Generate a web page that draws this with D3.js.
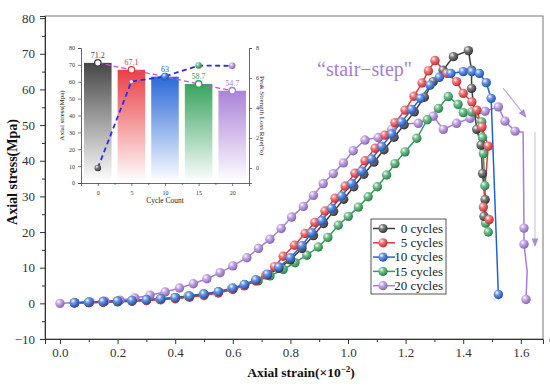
<!DOCTYPE html>
<html><head><meta charset="utf-8">
<script src="https://cdn.jsdelivr.net/npm/d3@7"></script>
<style>
body{margin:0;background:#fff}
svg{display:block}
text{font-family:"Liberation Serif","Times New Roman",serif}
</style>
</head><body>
<svg id="c" width="550" height="386"></svg>
<script>
// ---------- DATA ----------
const seriesNames  = ["0 cycles","5 cycles","10 cycles","15 cycles","20 cycles"];
const seriesColors = ["#3d3d3d","#e8363a","#1f62d6","#2f9e57","#a77cd8"];

const cycles0 = [[0.05,0.2],[0.10,0.3],[0.15,0.5],[0.20,0.6],[0.25,0.8],[0.30,1.0],[0.35,1.3],[0.40,1.6],[0.45,2.0],[0.50,2.5],[0.55,3.2],[0.60,4.1],[0.64,5.1],[0.68,6.4],[0.72,8.0],[0.76,9.8],[0.80,12.2],[0.84,15.4],[0.88,19.0],[0.915,22.4],[0.95,25.8],[0.985,29.2],[1.02,32.7],[1.055,36.2],[1.09,39.6],[1.125,43.1],[1.16,46.6],[1.195,50.1],[1.23,53.7],[1.265,57.8],[1.296,62.2],[1.33,65.4],[1.366,69.2],[1.418,70.9],[1.429,65.4],[1.429,60.3],[1.447,48.8],[1.462,44.4],[1.467,36.4],[1.476,29.1],[1.472,24.4]];
const cycles5 = [[0.05,0.1],[0.10,0.2],[0.15,0.3],[0.20,0.5],[0.25,0.6],[0.30,0.8],[0.35,1.0],[0.40,1.3],[0.45,1.7],[0.50,2.2],[0.55,2.9],[0.60,3.9],[0.64,4.9],[0.68,6.3],[0.715,8.0],[0.745,10.3],[0.775,13.2],[0.814,16.3],[0.851,19.6],[0.885,22.7],[0.92,25.9],[0.955,29.5],[0.99,32.9],[1.024,36.5],[1.059,40.0],[1.094,43.5],[1.128,47.2],[1.163,50.7],[1.198,54.2],[1.229,58.1],[1.257,61.8],[1.279,65.2],[1.302,68.1],[1.343,64.5],[1.377,62.2],[1.40,58.9],[1.43,56.5],[1.447,54.2],[1.465,49.5],[1.487,44.1],[1.47,27.0],[1.49,23.5]];
const cycles10 = [[0.05,0.2],[0.10,0.35],[0.15,0.5],[0.20,0.65],[0.25,0.8],[0.30,1.0],[0.35,1.3],[0.40,1.6],[0.45,2.0],[0.50,2.6],[0.55,3.3],[0.60,4.3],[0.64,5.3],[0.68,6.6],[0.72,8.2],[0.76,10.2],[0.80,12.8],[0.84,16.2],[0.874,19.8],[0.909,23.2],[0.943,26.7],[0.978,30.1],[1.013,33.6],[1.048,37.1],[1.082,40.5],[1.117,44.0],[1.152,47.5],[1.186,50.9],[1.221,54.4],[1.252,57.5],[1.285,61.2],[1.317,63.4],[1.357,64.5],[1.40,65.0],[1.43,65.0],[1.456,64.5],[1.48,61.9],[1.497,57.5],[1.522,2.5]];
const cycles15 = [[0.05,0.1],[0.10,0.2],[0.15,0.3],[0.20,0.4],[0.25,0.6],[0.30,0.8],[0.347,1.1],[0.40,1.6],[0.445,2.1],[0.498,2.7],[0.55,3.2],[0.596,4.2],[0.642,5.2],[0.688,6.3],[0.729,7.7],[0.775,9.5],[0.816,11.4],[0.857,13.5],[0.897,15.8],[0.93,18.5],[0.966,21.9],[1.001,24.4],[1.036,27.0],[1.07,29.9],[1.102,32.7],[1.134,36.0],[1.163,39.2],[1.198,42.5],[1.239,46.3],[1.275,51.5],[1.314,54.7],[1.348,58.0],[1.382,55.8],[1.40,53.5],[1.43,53.7],[1.464,50.9],[1.467,46.5],[1.47,42.0],[1.475,33.0],[1.478,22.5],[1.487,20.0]];
const cycles20 = [[0,0],[0.052,0.2],[0.104,0.4],[0.156,0.6],[0.208,0.9],[0.26,1.5],[0.3125,2.3],[0.365,3.2],[0.415,4.3],[0.463,5.5],[0.51,6.9],[0.556,8.6],[0.60,10.5],[0.649,12.8],[0.689,15.4],[0.729,18.0],[0.768,21.0],[0.804,24.2],[0.845,27.2],[0.88,30.3],[0.914,33.6],[0.949,36.4],[0.984,39.4],[1.018,42.8],[1.059,45.8],[1.105,46.5],[1.152,48.8],[1.192,50.3],[1.244,50.5],[1.296,52.5],[1.331,48.8],[1.377,50.5],[1.424,51.9],[1.476,53.9],[1.522,55.1],[1.545,51.1],[1.58,48.3],[1.608,48.0],[1.611,21.1],[1.611,16.6],[1.622,9.0],[1.618,1.1]];
const allSeries = [cycles0,cycles5,cycles10,cycles15,cycles20];
const lineOnlyIdx = [[],[],[],[],[37,40]];

const xTicks = [0,0.2,0.4,0.6,0.8,1.0,1.2,1.4,1.6];
const yTicks = [-10,0,10,20,30,40,50,60,70,80];

// inset
const cycleCounts = [0,5,10,15,20];
const peakStress  = [71.2,67.1,63,58.7,54.7];
const peakLabels  = ["71.2","67.1","63","58.7","54.7"];
const lossRate    = [0,5.76,6.11,6.83,6.81];
const insetLeftTicks  = [0,10,20,30,40,50,60,70,80];
const insetRightTicks = [0,2,4,6,8];

// ---------- DRAW ----------
const svg = d3.select("#c");
const defs = svg.append("defs");

seriesColors.forEach((c,i)=>{
  const g = defs.append("radialGradient").attr("id","sph"+i)
    .attr("cx","35%").attr("cy","32%").attr("r","70%");
  g.append("stop").attr("offset","0%").attr("stop-color","#ffffff");
  g.append("stop").attr("offset","35%").attr("stop-color",d3.interpolateRgb(c,"#fff")(0.35));
  g.append("stop").attr("offset","100%").attr("stop-color",d3.color(c).darker(0.6));
  const lg = defs.append("linearGradient").attr("id","bar"+i)
    .attr("x1",0).attr("y1",0).attr("x2",0).attr("y2",1);
  lg.append("stop").attr("offset","0%").attr("stop-color",c).attr("stop-opacity",0.95);
  lg.append("stop").attr("offset","100%").attr("stop-color",c).attr("stop-opacity",0.0);
});
const am = defs.append("marker").attr("id","arr").attr("viewBox","0 0 10 10")
  .attr("refX",9).attr("refY",5).attr("markerWidth",7).attr("markerHeight",7).attr("orient","auto-start-reverse");
am.append("path").attr("d","M0,1 L10,5 L0,9 z").attr("fill","#a98ad8");

const L=45, R=543, T=16, B=339;
const x = d3.scaleLinear().domain([-0.052,1.677]).range([L,R]);
const y = d3.scaleLinear().domain([-10,80.6]).range([B,T]);

// frame
svg.append("rect").attr("x",L).attr("y",T).attr("width",R-L).attr("height",B-T)
  .attr("fill","none").attr("stroke","#777").attr("stroke-width",1);

// x axis
svg.append("g").attr("transform",`translate(0,${B})`)
  .call(d3.axisBottom(x).tickValues(xTicks).tickFormat(d3.format(".1f")).tickSize(5).tickPadding(4));
svg.append("g").attr("transform",`translate(0,${B})`)
  .call(d3.axisBottom(x).tickValues(xTicks.map(v=>v+0.1)).tickFormat("").tickSize(3))
  .select(".domain").remove();
// y axis
svg.append("g").attr("transform",`translate(${L},0)`)
  .call(d3.axisLeft(y).tickValues(yTicks).tickSize(5).tickPadding(5));
svg.append("g").attr("transform",`translate(${L},0)`)
  .call(d3.axisLeft(y).tickValues(yTicks.slice(0,-1).map(v=>v+5)).tickFormat("").tickSize(3))
  .select(".domain").remove();
svg.selectAll(".tick text").attr("font-family","Liberation Serif, serif").attr("font-size",13).attr("fill","#333");
svg.selectAll(".tick line").attr("stroke","#333");
svg.selectAll(".domain").attr("stroke","#333");

// axis titles
svg.append("text").attr("transform","translate(17,172) rotate(-90)").attr("text-anchor","middle")
  .attr("font-weight","bold").attr("font-size",14).attr("fill","#111").text("Axial stress(Mpa)");
const xt = svg.append("text").attr("x",301).attr("y",377).attr("text-anchor","middle")
  .attr("font-weight","bold").attr("font-size",13.5).attr("fill","#111");
xt.append("tspan").text("Axial strain(×10");
xt.append("tspan").attr("dy",-5).attr("font-size",9).text("−2");
xt.append("tspan").attr("dy",5).text(")");

// curves
const line = d3.line().x(d=>x(d[0])).y(d=>y(d[1]));
const order = [4,3,0,1,2];
order.forEach(i=>{
  svg.append("path").datum(allSeries[i]).attr("d",line)
    .attr("fill","none").attr("stroke",seriesColors[i]).attr("stroke-width",1.5);
});
order.forEach(i=>{
  svg.append("g").selectAll("circle")
    .data(allSeries[i].filter((d,k)=>!lineOnlyIdx[i].includes(k)))
    .join("circle").attr("cx",d=>x(d[0])).attr("cy",d=>y(d[1])).attr("r",4.7)
    .attr("fill",`url(#sph${i})`);
});

// annotation
svg.append("text").attr("x",317).attr("y",76).attr("font-size",20).attr("fill","#a77cd8")
  .text("\u201Cstair\u2212step\"");
svg.append("line").attr("x1",503).attr("y1",88).attr("x2",526).attr("y2",117)
  .attr("stroke","#b9a3e2").attr("stroke-width",1.2).attr("marker-end","url(#arr)");
svg.append("line").attr("x1",535).attr("y1",132).attr("x2",535).attr("y2",246)
  .attr("stroke","#cfc8de").attr("stroke-width",1.2).attr("marker-end","url(#arr)");

// legend
const lg = svg.append("g");
lg.append("rect").attr("x",371).attr("y",219).attr("width",75).attr("height",75)
  .attr("fill","#fff").attr("stroke","#555").attr("stroke-width",1);
seriesNames.forEach((n,i)=>{
  const yy = 228.5 + i*14.3;
  lg.append("line").attr("x1",373).attr("x2",395).attr("y1",yy).attr("y2",yy)
    .attr("stroke",seriesColors[i]).attr("stroke-width",1.5);
  lg.append("circle").attr("cx",383).attr("cy",yy).attr("r",4.6).attr("fill",`url(#sph${i})`);
  lg.append("text").attr("x",443).attr("y",yy+4.3).attr("text-anchor","end")
    .attr("font-size",13).attr("fill","#222").text(n);
});

// ---------- INSET ----------
const iL=81, iR=249, iB=183, iT=48;
const ix = d3.scaleLinear().domain([-2.5,22.5]).range([iL,iR]);
const iyL = d3.scaleLinear().domain([0,80]).range([iB,iT]);
const iyR = d3.scaleLinear().domain([-1,8]).range([iB,iT]);
const bw = ix(4.1)-ix(0);
const ins = svg.append("g");
ins.selectAll("rect.bar").data(peakStress).join("rect").attr("class","bar")
  .attr("x",(d,i)=>ix(cycleCounts[i])-bw/2).attr("width",bw)
  .attr("y",d=>iyL(d)).attr("height",d=>iyL(0)-iyL(d)-1)
  .attr("fill",(d,i)=>`url(#bar${i})`);

ins.append("g").attr("transform",`translate(0,${iB})`)
  .call(d3.axisBottom(ix).tickValues(cycleCounts).tickSize(3).tickPadding(5));
ins.append("g").attr("transform",`translate(0,${iB})`)
  .call(d3.axisBottom(ix).tickValues(cycleCounts.map(v=>v+2.5).slice(0,4)).tickFormat("").tickSize(2))
  .select(".domain").remove();
ins.append("g").attr("transform",`translate(${iL},0)`)
  .call(d3.axisLeft(iyL).tickValues(insetLeftTicks).tickSize(3).tickPadding(3));
ins.append("g").attr("transform",`translate(${iR},0)`)
  .call(d3.axisRight(iyR).tickValues(insetRightTicks).tickSize(3).tickPadding(4));
ins.selectAll(".tick text").attr("font-size",6).attr("font-family","Liberation Serif, serif").attr("fill","#333");
ins.selectAll(".tick line").attr("stroke","#444").attr("stroke-width",0.7);
ins.selectAll(".domain").attr("stroke","#444").attr("stroke-width",0.8);

ins.append("text").attr("transform",`translate(64,${(iT+iB)/2}) rotate(-90)`).attr("text-anchor","middle")
  .attr("font-size",7).attr("fill","#222").text("Axial stress(Mpa)");
ins.append("text").attr("transform",`translate(260,${(iT+iB)/2}) rotate(90)`).attr("text-anchor","middle")
  .attr("font-size",7).attr("fill","#222").text("Peak Strength Loss Rate(%)");
ins.append("text").attr("x",165).attr("y",203).attr("text-anchor","middle")
  .attr("font-size",7.5).attr("fill","#222").text("Cycle Count");

// stress line (magenta dashed)
ins.append("path").datum(peakStress).attr("d",d3.line().x((d,i)=>ix(cycleCounts[i])).y(d=>iyL(d)))
  .attr("fill","none").attr("stroke","#d04ae6").attr("stroke-width",1.3).attr("stroke-dasharray","5,3");
// loss rate line (blue dashed)
ins.append("path").datum(lossRate).attr("d",d3.line().x((d,i)=>ix(cycleCounts[i])).y(d=>iyR(d)))
  .attr("fill","none").attr("stroke","#2b2bf0").attr("stroke-width",1.8).attr("stroke-dasharray","5,3.5");

ins.selectAll("circle.ps").data(peakStress).join("circle").attr("class","ps")
  .attr("cx",(d,i)=>ix(cycleCounts[i])).attr("cy",d=>iyL(d)).attr("r",3.2)
  .attr("fill","#fff").attr("stroke",(d,i)=>seriesColors[i]).attr("stroke-width",1.3);
ins.selectAll("circle.lr").data(lossRate).join("circle").attr("class","lr")
  .attr("cx",(d,i)=>ix(cycleCounts[i])).attr("cy",d=>iyR(d)).attr("r",(d,i)=>i===1?1.6:3.3)
  .attr("fill",(d,i)=>i===1?"#fff":`url(#sph${i})`);

ins.selectAll("text.bl").data(peakLabels).join("text").attr("class","bl")
  .attr("x",(d,i)=>ix(cycleCounts[i])).attr("y",(d,i)=>iyL(peakStress[i])-5)
  .attr("text-anchor","middle").attr("font-size",8)
  .attr("fill",(d,i)=>i===0?"#444":seriesColors[i]).text(d=>d);
</script>
</body></html>
